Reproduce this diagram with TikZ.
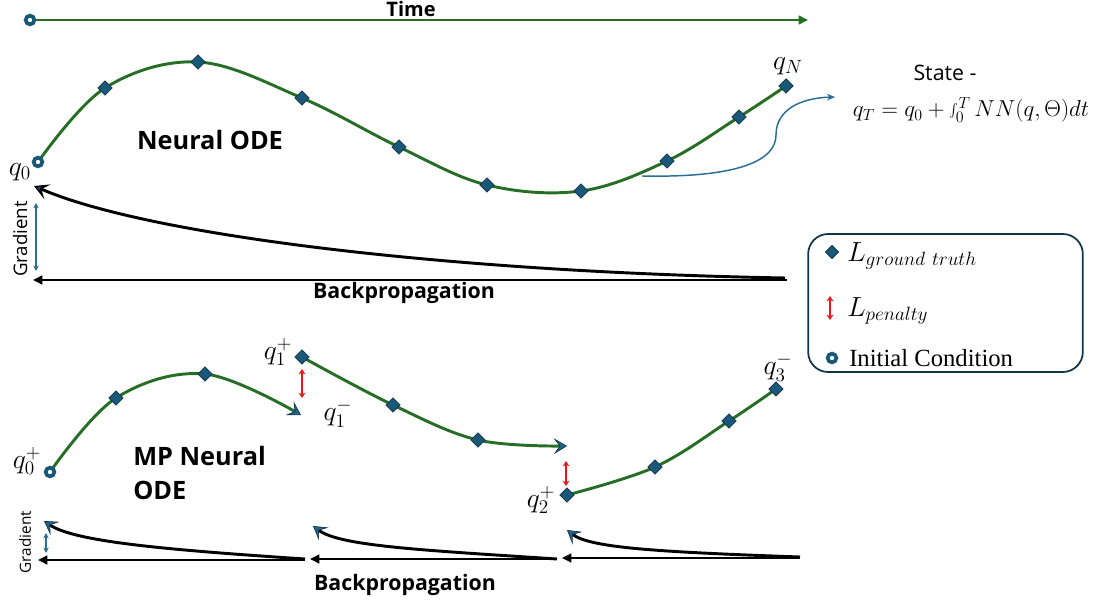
\documentclass[tikz,border=0pt]{standalone}
\usepackage{fontspec}
\setmainfont{Liberation Serif}
\setsansfont{Open Sans}
\usetikzlibrary{arrows.meta,shapes.geometric}
\definecolor{ode}{RGB}{38,110,38}
\definecolor{dia}{RGB}{26,88,122}
\definecolor{chevfill}{RGB}{32,100,140}
\definecolor{diaedge}{RGB}{16,52,72}
\definecolor{gblue}{RGB}{40,110,150}
\definecolor{pen}{RGB}{240,20,20}
\begin{document}
\begin{tikzpicture}[x=0.75pt,y=-0.75pt,
  gt/.style={diamond, fill=dia, draw=diaedge, line width=0.6pt, inner sep=0pt, minimum size=11pt},
  ic/.style={circle, draw=dia, line width=2.8pt, fill=white, inner sep=0pt, minimum size=6.5pt},
  traj/.style={draw=ode, line width=2.2pt},
  bp/.style={draw=black, line width=2.2pt},
  chev/.style={-{Stealth[length=10pt,width=12pt,inset=4.5pt,color=diaedge,fill=chevfill,line width=0.5pt]}},
  chevk/.style={-{Stealth[length=11pt,width=12pt,inset=5pt,color=black,fill=chevfill,line width=1.2pt]}},
  ltip/.style={-{Triangle[length=7pt,width=6.5pt]}},
  pena/.style={draw=pen, line width=2.2pt, {Stealth[length=4pt,width=5pt]}-{Stealth[length=4pt,width=5pt]}},
  grad/.style={draw=gblue, line width=0.9pt, {Stealth[length=4pt,width=4pt]}-{Stealth[length=4pt,width=4pt]}},
  mlab/.style={inner sep=0pt, font=\fontsize{20}{24}\selectfont},
  bold/.style={inner sep=0pt, font=\sffamily\bfseries\fontsize{16}{19}\selectfont},
]
\useasboundingbox (0,0) rectangle (1102,605);

% ---- time axis
\node[ic] (t0) at (30,20) {};
\coordinate (t1) at (808,20);
\draw[draw=ode, line width=2pt, ltip] (t0) -- (t1);
\node[bold, font=\sffamily\bfseries\fontsize{15}{18}\selectfont] (time) at (411,9) {Time};

% ---- Neural ODE trajectory
\coordinate (p0) at (38,162);
\coordinate (p1) at (105,88);
\coordinate (p2) at (198,62);
\coordinate (p3) at (302,98);
\coordinate (p4) at (399,147);
\coordinate (p5) at (487,185);
\coordinate (p6) at (581,191);
\coordinate (p7) at (667,161);
\coordinate (p8) at (739,117);
\coordinate (p9) at (786,86);
\draw[traj] plot[smooth, tension=0.6] coordinates {(p0) (p1) (p2) (p3) (p4) (p5) (p6) (p7) (p8) (p9)};
\node[ic] (n0) at (p0) {};
\foreach \i in {1,...,9} \node[gt] (n\i) at (p\i) {};
\node[mlab] (lq0) at (20,172) {$q_0$};
\node[mlab] (lqN) at (788,66) {$q_N$};
\node[inner sep=0pt, font=\sffamily\bfseries\fontsize{19}{22}\selectfont] (title1) at (210,140) {Neural ODE};

% ---- state callout
\coordinate (cs) at (642,176);
\coordinate (ce) at (835,97);
\draw[draw=gblue, line width=1.1pt, -{Stealth[length=6pt,width=5pt]}] (cs) .. controls (740,178) and (776,160) .. (776,135) .. controls (776,110) and (800,98) .. (ce);
\node[inner sep=0pt, font=\sffamily\fontsize{16}{19}\selectfont] (state) at (945,73) {State -};
\node[inner sep=0pt, font=\fontsize{18}{22}\selectfont] (eq) at (971,110) {$q_T = q_0 + \int_0^T NN(q,\Theta)dt$};

% ---- top gradient / backpropagation
\coordinate (g0) at (785,278);
\coordinate (g1) at (34,186);
\draw[bp, chevk] (g0) .. controls (450,272) and (150,236) .. (g1);
\coordinate (b0) at (787,280);
\coordinate (b1) at (33,280);
\draw[bp, ltip] (b0) -- (b1);
\coordinate (ga) at (36,203);
\coordinate (gb) at (36,271);
\draw[grad] (ga) -- (gb);
\node[inner sep=0pt, rotate=90, font=\sffamily\fontsize{14}{17}\selectfont] (gradtop) at (20,239) {Gradient};
\node[bold] (bptop) at (404,293) {Backpropagation};

% ---- legend
\node[draw=diaedge, rounded corners=15pt, line width=1.3pt, minimum width=206pt, minimum height=103.5pt, inner sep=0pt] (leg) at (945.5,303) {};
\node[gt, minimum size=10pt] (lg1) at (832,252) {};
\node[anchor=west, inner sep=0pt, font=\fontsize{21}{24}\selectfont] (lt1) at (847,256) {$L_{ground\ truth}$};
\coordinate (lpa) at (830,296);
\coordinate (lpb) at (830,320);
\draw[pena] (lpa) -- (lpb);
\node[anchor=west, inner sep=0pt, font=\fontsize{21}{24}\selectfont] (lt2) at (847,311) {$L_{penalty}$};
\node[ic] (lg3) at (832,358) {};
\node[anchor=west, inner sep=0pt, font=\fontsize{18.5}{21}\selectfont] (lt3) at (849,358) {Initial Condition};

% ---- MP Neural ODE
\coordinate (a0) at (50,472);
\coordinate (a1) at (116,398);
\coordinate (a2) at (205,374);
\coordinate (a3) at (301,415);
\draw[traj, chev] plot[smooth, tension=0.6] coordinates {(a0) (a1) (a2) (a3)};
\node[ic] (m0) at (a0) {};
\node[gt] (m1) at (a1) {};
\node[gt] (m2) at (a2) {};

\coordinate (s0) at (302,357);
\coordinate (s1) at (393,405);
\coordinate (s2) at (478,440);
\coordinate (s3) at (567,446);
\draw[traj, chev] plot[smooth, tension=0.6] coordinates {(s0) (s1) (s2) (s3)};
\node[gt] (k0) at (s0) {};
\node[gt] (k1) at (s1) {};
\node[gt] (k2) at (s2) {};

\coordinate (u0) at (567,495);
\coordinate (u1) at (655,467);
\coordinate (u2) at (729,421);
\coordinate (u3) at (776,389);
\draw[traj] plot[smooth, tension=0.6] coordinates {(u0) (u1) (u2) (u3)};
\foreach \i in {0,...,3} \node[gt] (w\i) at (u\i) {};

\coordinate (r1a) at (302,369);
\coordinate (r1b) at (302,398);
\draw[pena] (r1a) -- (r1b);
\coordinate (r2a) at (566,461);
\coordinate (r2b) at (566,486);
\draw[pena] (r2a) -- (r2b);

\node[mlab] (lq0p) at (27,461) {$q_0^+$};
\node[mlab] (lq1p) at (278,352) {$q_1^+$};
\node[mlab] (lq1m) at (338,413) {$q_1^-$};
\node[mlab] (lq2p) at (541,500) {$q_2^+$};
\node[mlab] (lq3m) at (778,367) {$q_3^-$};
\node[anchor=west, align=left, inner sep=0pt, font=\sffamily\bfseries\fontsize{19}{25}\selectfont] (title2) at (133,473) {MP Neural\\ODE};

% ---- bottom gradient / backpropagation
\coordinate (e3a) at (800,557);
\coordinate (e3b) at (567,530);
\draw[bp, chev] (e3a) .. controls (660,552) and (590,548) .. (e3b);
\coordinate (e2a) at (557,559);
\coordinate (e2b) at (313,526);
\draw[bp, chev] (e2a) .. controls (420,550) and (340,546) .. (e2b);
\coordinate (e1a) at (305,559);
\coordinate (e1b) at (44,521);
\draw[bp, chev] (e1a) .. controls (170,550) and (75,542) .. (e1b);
\coordinate (f3a) at (800,558);
\coordinate (f3b) at (562,558);
\draw[bp, ltip] (f3a) -- (f3b);
\coordinate (f2a) at (557,559);
\coordinate (f2b) at (310,559);
\draw[bp, ltip] (f2a) -- (f2b);
\coordinate (f1a) at (305,560);
\coordinate (f1b) at (38,560);
\draw[bp, ltip] (f1a) -- (f1b);
\coordinate (gc) at (46,533);
\coordinate (gd) at (46,553);
\draw[grad] (gc) -- (gd);
\node[inner sep=0pt, rotate=90, font=\sffamily\fontsize{11.5}{13}\selectfont] (gradbot) at (25,542) {Gradient};
\node[bold] (bpbot) at (405,585) {Backpropagation};
\end{tikzpicture}
\end{document}
